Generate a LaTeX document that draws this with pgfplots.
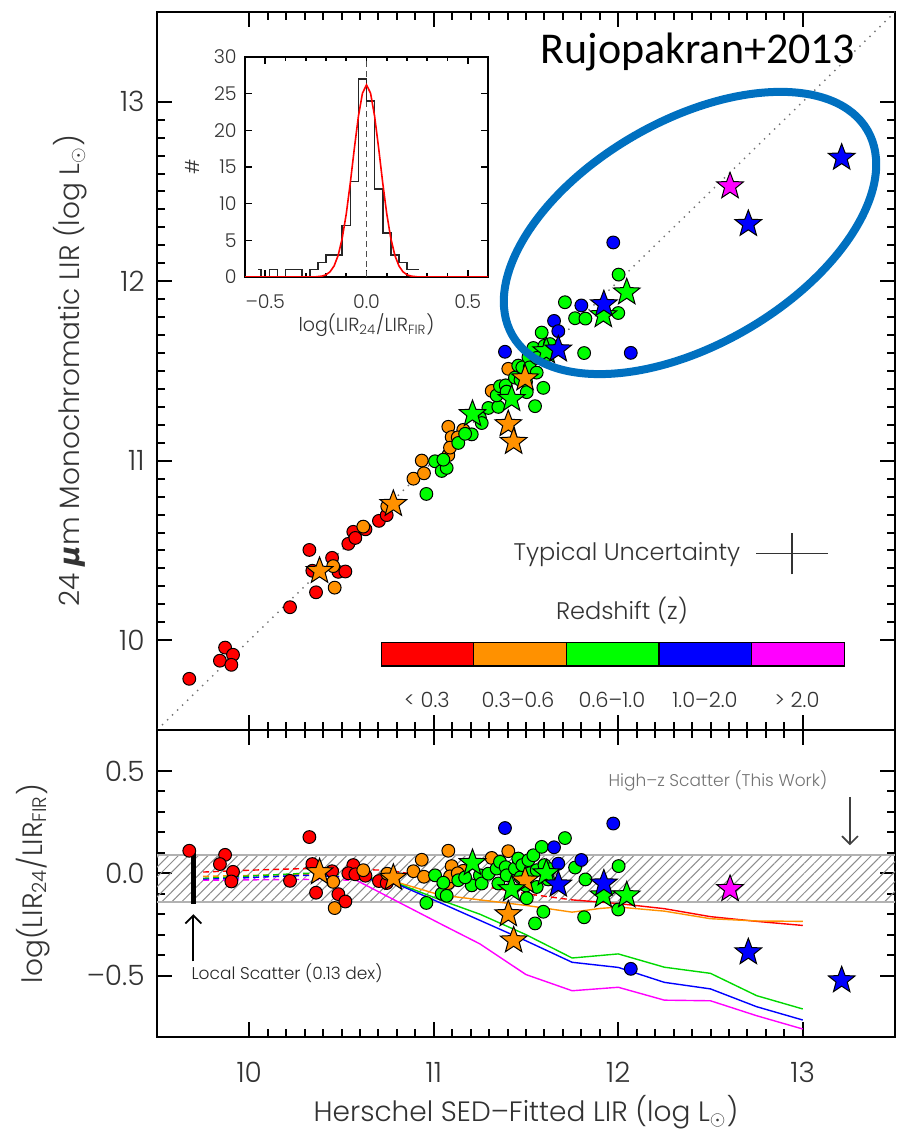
\documentclass[border=0pt]{standalone}
\usepackage{fontspec}
\setmainfont{Poppins Light}
\newfontfamily\dejavu{DejaVu Sans}
\newfontfamily\carlito{Carlito}
\usepackage{pgfplots}
\pgfplotsset{compat=1.18}
\usepackage{pgfplotstable}
\usetikzlibrary{patterns.meta,arrows.meta}

\definecolor{zred}{RGB}{255,0,0}
\definecolor{zorange}{RGB}{255,145,0}
\definecolor{zgreen}{RGB}{0,255,0}
\definecolor{zblue}{RGB}{0,0,255}
\definecolor{zmag}{RGB}{255,0,255}
\definecolor{pptblue}{RGB}{0,112,192}

% filled five-pointed star
\pgfdeclareplotmark{fstar}{%
  \pgfpathmoveto{\pgfpointpolar{90}{\pgfplotmarksize}}%
  \pgfpathlineto{\pgfpointpolar{126}{0.42\pgfplotmarksize}}%
  \pgfpathlineto{\pgfpointpolar{162}{\pgfplotmarksize}}%
  \pgfpathlineto{\pgfpointpolar{198}{0.42\pgfplotmarksize}}%
  \pgfpathlineto{\pgfpointpolar{234}{\pgfplotmarksize}}%
  \pgfpathlineto{\pgfpointpolar{270}{0.42\pgfplotmarksize}}%
  \pgfpathlineto{\pgfpointpolar{306}{\pgfplotmarksize}}%
  \pgfpathlineto{\pgfpointpolar{342}{0.42\pgfplotmarksize}}%
  \pgfpathlineto{\pgfpointpolar{18}{\pgfplotmarksize}}%
  \pgfpathlineto{\pgfpointpolar{54}{0.42\pgfplotmarksize}}%
  \pgfpathclose
  \pgfusepathqfillstroke
}

% x = Herschel LIR, y = 24um LIR, r = y - x
\pgfplotstableread{
x y r
9.675 9.785 0.110
9.869 9.959 0.090
9.841 9.886 0.045
9.912 9.919 0.007
9.903 9.863 -0.040
10.221 10.184 -0.037
10.326 10.503 0.177
10.342 10.387 0.045
10.362 10.267 -0.095
10.449 10.459 0.010
10.483 10.381 -0.102
10.521 10.383 -0.138
10.564 10.604 0.040
10.537 10.537 0.000
10.575 10.570 -0.005
10.630 10.618 -0.012
10.703 10.665 -0.038
10.745 10.697 -0.048
}\redpts

\pgfplotstableread{
x y r
10.455 10.413 -0.042
10.463 10.293 -0.170
10.618 10.633 0.015
10.748 10.746 -0.002
10.890 10.900 0.010
10.935 11.001 0.066
10.947 10.930 -0.017
11.079 11.189 0.110
11.097 11.132 0.035
11.079 11.031 -0.048
11.088 11.073 -0.015
11.160 11.172 0.012
11.130 11.130 0.000
11.314 11.389 0.075
11.404 11.512 0.108
}\orangepts

\pgfplotstableread{
x y r
10.960 10.815 -0.145
11.007 10.997 -0.010
11.043 10.943 -0.100
11.070 10.960 -0.110
11.052 11.006 -0.046
11.133 11.099 -0.034
11.206 11.147 -0.059
11.170 11.150 -0.020
11.250 11.240 -0.010
11.260 11.210 -0.050
11.296 11.294 -0.002
11.350 11.300 -0.050
11.341 11.364 0.023
11.359 11.415 0.056
11.390 11.420 0.030
11.395 11.385 -0.010
11.440 11.463 0.023
11.458 11.530 0.072
11.470 11.450 -0.020
11.480 11.520 0.040
11.500 11.440 -0.060
11.504 11.382 -0.122
11.513 11.577 0.064
11.520 11.520 0.000
11.540 11.628 0.088
11.558 11.491 -0.067
11.558 11.573 0.015
11.585 11.714 0.129
11.600 11.640 0.040
11.620 11.590 -0.030
11.630 11.650 0.020
11.594 11.406 -0.188
11.549 11.304 -0.245
11.711 11.883 0.172
11.766 11.794 0.028
11.822 11.792 -0.030
11.815 11.600 -0.215
12.002 12.037 0.035
12.000 11.823 -0.177
}\greenpts

\pgfplotstableread{
x y r
11.386 11.607 0.221
11.652 11.779 0.127
11.675 11.722 0.047
11.800 11.865 0.065
11.973 12.216 0.243
12.068 11.601 -0.467
}\bluepts

\pgfplotstableread{
x y r
10.381 10.386 0.005
10.781 10.759 -0.022
11.404 11.204 -0.200
11.433 11.105 -0.328
11.495 11.459 -0.036
}\orangestars

\pgfplotstableread{
x y r
11.210 11.260 0.050
11.422 11.344 -0.078
11.610 11.610 0.000
11.919 11.811 -0.108
12.046 11.938 -0.108
}\greenstars

\pgfplotstableread{
x y r
11.675 11.620 -0.055
11.922 11.872 -0.050
12.705 12.319 -0.386
13.211 12.688 -0.523
}\bluestars

\pgfplotstableread{
x y r
12.606 12.529 -0.077
}\magstars

\pgfplotsset{
  panel/.style={
    scale only axis, width=369pt,
    xmin=9.5, xmax=13.5,
    xtick={10,11,12,13}, minor x tick num=9,
    tick align=inside,
    major tick length=7.5pt, minor tick length=4pt,
    axis line style={line width=1pt},
    every tick/.style={line width=1pt, black},
    tick label style={font=\fontsize{14}{16}\selectfont, text=black!80},
    label style={font=\fontsize{14}{16}\selectfont, text=black!80},
    yticklabel style={anchor=east, inner sep=0pt, xshift=-6pt},
    /pgf/number format/assume math mode=true,
  },
  pt/.style={only marks, mark=*, mark size=3.2pt,
    mark options={draw=black, line width=0.5pt, fill=#1}},
  st/.style={only marks, mark=fstar, mark size=7pt,
    mark options={draw=black, line width=0.5pt, fill=#1}},
}

\begin{document}
\begin{tikzpicture}
\useasboundingbox (0pt,0pt) rectangle (448.5pt,566.5pt);

% ---------------- upper panel ----------------
\begin{axis}[panel, at={(78.5pt,201.5pt)}, anchor=south west, height=359pt,
  ymin=9.5, ymax=13.5, ytick={10,11,12,13}, minor y tick num=9,
  xticklabels={},
  ylabel={24 {\dejavu\bfseries\itshape μ}m Monochromatic LIR (log L$_\odot$)},
  ylabel style={at={(axis description cs:-0.118,0.5)}, anchor=center},
]
\addplot[black!55, line width=0.7pt, dash pattern=on 0.7pt off 2.8pt] coordinates {(9.5,9.5) (13.5,13.5)};

\addplot[pt=zred] table[x=x,y=y] {\redpts};
\addplot[pt=zorange] table[x=x,y=y] {\orangepts};
\addplot[pt=zgreen] table[x=x,y=y] {\greenpts};
\addplot[pt=zblue] table[x=x,y=y] {\bluepts};
\addplot[st=zorange] table[x=x,y=y] {\orangestars};
\addplot[st=zgreen] table[x=x,y=y] {\greenstars};
\addplot[st=zblue] table[x=x,y=y] {\bluestars};
\addplot[st=zmag] table[x=x,y=y] {\magstars};

% typical uncertainty
\node[font=\fontsize{12}{14}\selectfont, text=black!80] at (axis cs:12.047,10.477) {Typical Uncertainty};
\addplot[black!80, line width=0.6pt] coordinates {(12.747,10.483) (13.137,10.483)};
\addplot[black!80, line width=0.6pt] coordinates {(12.942,10.367) (12.942,10.599)};

% redshift key
\node[font=\fontsize{12}{14}\selectfont, text=black!80] at (axis cs:12.02,10.167) {Redshift (z)};
\filldraw[fill=zred, draw=black, line width=0.6pt] (axis cs:10.715,9.856) rectangle (axis cs:11.217,9.989);
\filldraw[fill=zorange, draw=black, line width=0.6pt] (axis cs:11.217,9.856) rectangle (axis cs:11.719,9.989);
\filldraw[fill=zgreen, draw=black, line width=0.6pt] (axis cs:11.719,9.856) rectangle (axis cs:12.221,9.989);
\filldraw[fill=zblue, draw=black, line width=0.6pt] (axis cs:12.221,9.856) rectangle (axis cs:12.723,9.989);
\filldraw[fill=zmag, draw=black, line width=0.6pt] (axis cs:12.723,9.856) rectangle (axis cs:13.225,9.989);
\begin{scope}[font=\fontsize{10.5}{12}\selectfont, text=black!80]
\node at (axis cs:10.963,9.668) {< 0.3};
\node at (axis cs:11.457,9.668) {0.3\textendash0.6};
\node at (axis cs:11.966,9.668) {0.6\textendash1.0};
\node at (axis cs:12.470,9.668) {1.0\textendash2.0};
\node at (axis cs:12.969,9.668) {> 2.0};
\end{scope}

\node[font=\carlito\fontsize{22}{26}\selectfont] at (axis cs:12.432,13.278) {Rujopakran+2013};
\end{axis}

% ---------------- inset histogram ----------------
\begin{axis}[at={(122.5pt,428pt)}, anchor=south west, scale only axis,
  width=121.5pt, height=110pt,
  xmin=-0.6, xmax=0.6, ymin=0, ymax=30,
  xtick={-0.5,0,0.5}, xticklabels={\textendash0.5,0.0,0.5}, minor x tick num=4,
  ytick={0,5,10,15,20,25,30},
  tick align=inside, major tick length=3.5pt, minor tick length=2pt,
  axis line style={line width=0.8pt}, every tick/.style={line width=0.8pt, black},
  axis background/.style={fill=white},
  tick label style={font=\fontsize{9.5}{11}\selectfont, text=black!80},
  xticklabel style={anchor=north, inner sep=0pt, yshift=-8.75pt},
  yticklabel style={anchor=east, inner sep=0pt, xshift=-4pt},
  label style={font=\fontsize{9.5}{11}\selectfont, text=black!80},
  xlabel={log(LIR\textsubscript{24}/LIR\textsubscript{FIR})},
  xlabel style={at={(axis description cs:0.5,-0.218)}, anchor=center},
  ylabel={\#},
  ylabel style={at={(axis description cs:-0.218,0.5)}, anchor=center},
  /pgf/number format/assume math mode=true,
]
\addplot[black!70, line width=0.8pt, dash pattern=on 3pt off 2pt] coordinates {(0,0) (0,30)};
\addplot[const plot, black!85, line width=0.8pt] coordinates {
  (-0.535,1) (-0.52,0) (-0.48,1) (-0.44,0) (-0.40,1) (-0.32,0) (-0.28,1)
  (-0.24,2) (-0.20,3) (-0.12,7) (-0.08,13) (-0.04,27) (0.00,24) (0.04,12)
  (0.08,6) (0.12,3) (0.16,2) (0.20,1) (0.26,1)};
\addplot[zred, line width=0.8pt] coordinates {
  (-0.60,0) (-0.25,0.02) (-0.22,0.12) (-0.20,0.30) (-0.18,0.71) (-0.16,1.51)
  (-0.14,2.95) (-0.12,5.27) (-0.10,8.60) (-0.08,12.84) (-0.06,17.55)
  (-0.04,21.92) (-0.02,25.06) (0.00,26.20) (0.02,25.06) (0.04,21.92)
  (0.06,17.55) (0.08,12.84) (0.10,8.60) (0.12,5.27) (0.14,2.95) (0.16,1.51)
  (0.18,0.71) (0.20,0.30) (0.22,0.12) (0.25,0.02) (0.60,0)};
\end{axis}

% ---------------- lower panel ----------------
\begin{axis}[panel, at={(78.5pt,48pt)}, anchor=south west, height=153.5pt,
  ymin=-0.8, ymax=0.7, ytick={-0.5,0,0.5}, yticklabels={\textendash0.5,0.0,0.5},
  minor y tick num=4,
  xticklabels={10,11,12,13},
  xticklabel style={anchor=north, inner sep=0pt, yshift=-12.5pt},
  xlabel={Herschel SED\textendash Fitted LIR (log L$_\odot$)},
  xlabel style={at={(axis description cs:0.5,-0.244)}, anchor=center},
  ylabel={log(LIR\textsubscript{24}/LIR\textsubscript{FIR})},
  ylabel style={at={(axis description cs:-0.168,0.5)}, anchor=center},
]
% high-z scatter band
\fill[pattern={Lines[angle=45,distance=3.5pt,line width=0.5pt]}, pattern color=black!45]
  (axis cs:9.5,-0.14) rectangle (axis cs:13.5,0.09);
\addplot[black!30, line width=0.8pt] coordinates {(9.5,0.09) (13.5,0.09)};
\addplot[black!30, line width=0.8pt] coordinates {(9.5,-0.14) (13.5,-0.14)};

% template tracks
\addplot[zred, line width=0.7pt, dash pattern=on 3pt off 2pt] coordinates {(9.75,0.006) (10.0,0.015) (10.3,0.023) (10.75,0.015) (11.0,-0.02) (11.25,-0.06) (11.5,-0.10) (11.75,-0.13)};
\addplot[zorange, line width=0.7pt, dash pattern=on 3pt off 2pt] coordinates {(9.75,-0.015) (10.3,-0.005) (10.75,-0.03)};
\addplot[zgreen!80!black, line width=0.7pt, dash pattern=on 3pt off 2pt] coordinates {(9.75,-0.025) (10.3,0.0) (10.6,-0.01)};
\addplot[zblue, line width=0.7pt, dash pattern=on 3pt off 2pt] coordinates {(9.75,-0.03) (10.3,-0.01) (10.6,-0.02)};
\addplot[zmag, line width=0.7pt, dash pattern=on 3pt off 2pt] coordinates {(9.75,-0.034) (10.3,-0.03) (10.58,-0.034)};

\addplot[zred, line width=0.7pt] coordinates {(11.75,-0.13) (12.0,-0.148) (12.25,-0.173) (12.5,-0.212) (12.75,-0.235) (13.0,-0.255)};
\addplot[zorange, line width=0.7pt] coordinates {(10.75,-0.03) (11.03,-0.105) (11.25,-0.13) (11.5,-0.157) (11.75,-0.19) (11.9,-0.172) (12.0,-0.165) (12.25,-0.185) (12.5,-0.222) (12.75,-0.233) (13.0,-0.235)};
\addplot[zgreen!85!black, line width=0.7pt] coordinates {(10.6,-0.01) (10.82,-0.055) (11.05,-0.135) (11.25,-0.2) (11.5,-0.3) (11.75,-0.414) (12.0,-0.394) (12.25,-0.459) (12.5,-0.489) (12.75,-0.598) (13.0,-0.663)};
\addplot[zblue, line width=0.7pt] coordinates {(10.6,-0.02) (10.82,-0.06) (11.05,-0.15) (11.25,-0.23) (11.5,-0.33) (11.75,-0.435) (12.0,-0.46) (12.25,-0.533) (12.5,-0.565) (12.75,-0.652) (13.0,-0.717)};
\addplot[zmag, line width=0.7pt] coordinates {(10.58,-0.034) (11.03,-0.244) (11.25,-0.345) (11.5,-0.495) (11.75,-0.574) (12.0,-0.557) (12.25,-0.62) (12.5,-0.623) (12.75,-0.696) (13.0,-0.761)};

% local scatter bar
\addplot[black, line width=2.2pt] coordinates {(9.697,0.11) (9.697,-0.149)};
\draw[black, line width=0.9pt, -{Straight Barb[length=4pt,width=8pt]}] (axis cs:9.697,-0.43) -- (axis cs:9.697,-0.2);
\node[anchor=west, inner sep=0pt, font=\fontsize{8.5}{10}\selectfont, text=black!85] at (axis cs:9.685,-0.489) {Local Scatter (0.13 dex)};
\node[font=\fontsize{8.5}{10}\selectfont, text=black!55] at (axis cs:12.54,0.451) {High\textendash z Scatter (This Work)};
\draw[black!75, line width=0.8pt, -{Straight Barb[length=4pt,width=8pt]}] (axis cs:13.256,0.373) -- (axis cs:13.256,0.137);

\addplot[pt=zred] table[x=x,y=r] {\redpts};
\addplot[pt=zorange] table[x=x,y=r] {\orangepts};
\addplot[pt=zgreen] table[x=x,y=r] {\greenpts};
\addplot[pt=zblue] table[x=x,y=r] {\bluepts};
\addplot[st=zorange] table[x=x,y=r] {\orangestars};
\addplot[st=zgreen] table[x=x,y=r] {\greenstars};
\addplot[st=zblue] table[x=x,y=r] {\bluestars};
\addplot[st=zmag] table[x=x,y=r] {\magstars};
\end{axis}

% highlighted high-luminosity region
\draw[pptblue, line width=4pt, rotate around={30:(345pt,450pt)}] (345pt,450pt) ellipse [x radius=102.5pt, y radius=56pt];
\end{tikzpicture}
\end{document}
